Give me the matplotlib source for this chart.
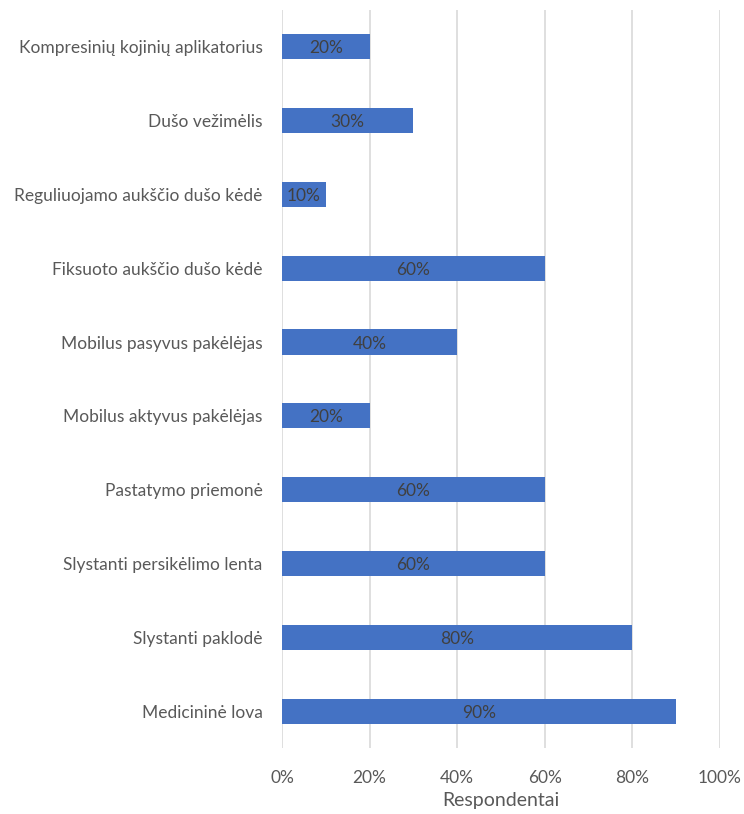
import matplotlib
matplotlib.use("Agg")
import matplotlib.pyplot as plt
from matplotlib.ticker import FuncFormatter

# ------------------------------------------------------------
# Duomenys
# ------------------------------------------------------------
categories = [
    "Kompresinių kojinių aplikatorius",
    "Dušo vežimėlis",
    "Reguliuojamo aukščio dušo kėdė",
    "Fiksuoto aukščio dušo kėdė",
    "Mobilus pasyvus pakėlėjas",
    "Mobilus aktyvus pakėlėjas",
    "Pastatymo priemonė",
    "Slystanti persikėlimo lenta",
    "Slystanti paklodė",
    "Medicininė lova",
]
values = [20, 30, 10, 60, 40, 20, 60, 60, 80, 90]
x_ticks = [0, 20, 40, 60, 80, 100]
x_label = "Respondentai"

plt.rcParams['font.family'] = ['Lato', 'DejaVu Sans']

text_col = "#595959"
bar_col = "#4472C4"
grid_col = "#D9D9D9"

fig = plt.figure(figsize=(7.44, 8.14), dpi=100)
ax = fig.add_axes([0.379, 0.081, 0.5887, 0.907])

ypos = list(range(len(categories)))
bars = ax.barh(ypos, values, height=0.34, color=bar_col, zorder=2)

for y, v in zip(ypos, values):
    ax.text(v / 2, y, f"{v}%", ha="center", va="center_baseline",
            fontsize=12.5, color="#404040", zorder=3)

ax.set_xlim(0, 100)
ax.set_ylim(len(categories) - 0.5, -0.5)
ax.set_xticks(x_ticks)
ax.xaxis.set_major_formatter(FuncFormatter(lambda v, p: f"{v:.0f}%"))
ax.set_yticks(ypos)
ax.set_yticklabels(categories)

ax.grid(axis="x", color=grid_col, linewidth=1.2, zorder=0)
ax.tick_params(axis="both", length=0, labelsize=12.5, colors=text_col)
ax.tick_params(axis="x", pad=16)
ax.tick_params(axis="y", pad=14)
for s in ax.spines.values():
    s.set_visible(False)

ax.set_xlabel(x_label, fontsize=14, color=text_col, labelpad=4)

fig.savefig("out.png", dpi=100)
